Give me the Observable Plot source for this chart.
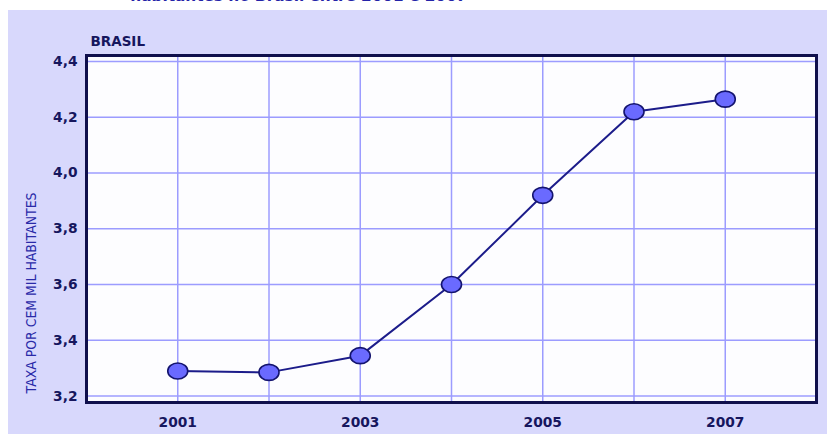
<!DOCTYPE html>
<html>
<head>
<meta charset="utf-8">
<script src="https://cdn.jsdelivr.net/npm/d3@7"></script>
<script src="https://cdn.jsdelivr.net/npm/@observablehq/plot@0.6"></script>
<style>
  html, body { margin: 0; padding: 0; background: #ffffff; width: 827px; height: 434px; overflow: hidden; }
  #wrap { position: relative; width: 827px; height: 434px; background: #ffffff; }
  #title { position: absolute; z-index: 2; left: 131px; top: -13px; font: italic bold 15.3px "DejaVu Sans", sans-serif; color: #2424a8; white-space: nowrap; }
  #panel { position: absolute; z-index: 1; left: 8px; top: 10px; width: 819px; height: 424px; background: #d8d8fc; }
</style>
</head>
<body>
<div id="wrap">
  <div id="panel"></div>
  <div id="title">habitantes no Brasil entre 2001 e 2007</div>
</div>
<script>
// Taxa por cem mil habitantes, Brasil, 2001–2007
const years = [2001, 2002, 2003, 2004, 2005, 2006, 2007];
const rates = [3.29, 3.285, 3.345, 3.6, 3.92, 4.22, 4.265];
const yTicks = [3.2, 3.4, 3.6, 3.8, 4.0, 4.2, 4.4];
const xLabels = [2001, 2003, 2005, 2007];
const regionLabel = "BRASIL";
const yLabel = "TAXA POR CEM MIL HABITANTES";

const data = years.map((year, i) => ({year, rate: rates[i]}));

// Elliptical marker (wider than tall)
const ellipse = {
  draw(ctx) {
    const a = 10, b = 8, k = 0.5523;
    ctx.moveTo(a, 0);
    ctx.bezierCurveTo(a, b * k, a * k, b, 0, b);
    ctx.bezierCurveTo(-a * k, b, -a, b * k, -a, 0);
    ctx.bezierCurveTo(-a, -b * k, -a * k, -b, 0, -b);
    ctx.bezierCurveTo(a * k, -b, a, -b * k, a, 0);
    ctx.closePath();
  }
};

const fmt = d => d.toFixed(1).replace(".", ",");

const chart = Plot.plot({
  width: 819,
  height: 424,
  marginLeft: 78,
  marginTop: 45,
  marginRight: 11,
  marginBottom: 32,
  style: {background: "transparent", fontFamily: "DejaVu Sans, sans-serif", display: "block"},
  x: {domain: [2000, 2008]},
  y: {domain: [3.177, 4.4215]},
  marks: [
    Plot.frame({fill: "#fdfdff"}),
    Plot.gridX(years, {stroke: "#9c9cff", strokeOpacity: 1, strokeWidth: 1.5}),
    Plot.gridY(yTicks, {stroke: "#9c9cff", strokeOpacity: 1, strokeWidth: 1.5}),
    Plot.axisY(yTicks, {tickSize: 0, tickPadding: 9, tickFormat: fmt, label: null,
      fontSize: 13.8, fontWeight: "bold", fill: "#16165e"}),
    Plot.axisX(xLabels, {tickSize: 0, tickPadding: 15, tickFormat: d => String(d), label: null,
      fontSize: 13.8, fontWeight: "bold", fill: "#16165e"}),
    Plot.text([regionLabel], {frameAnchor: "top-left", textAnchor: "start", dx: 4, dy: -19,
      fontSize: 13.5, fontWeight: "bold", fill: "#16165e"}),
    Plot.text([yLabel], {frameAnchor: "bottom-left", textAnchor: "start", rotate: -90,
      dx: -51, dy: -9, fontSize: 14, fill: "#2a2aa8", className: "ylabel"}),
    Plot.line(data, {x: "year", y: "rate", stroke: "#1c1c8a", strokeWidth: 2}),
    Plot.dot(data, {x: "year", y: "rate", symbol: ellipse, r: 8,
      fill: "#6a6aff", stroke: "#14146e", strokeWidth: 1.6}),
    Plot.frame({stroke: "#10104c", strokeWidth: 3})
  ]
});

// The axis title is set in a condensed face: fit it to the axis height
d3.select(chart).selectAll(".ylabel text")
  .attr("textLength", 201)
  .attr("lengthAdjust", "spacingAndGlyphs");

document.getElementById("panel").append(chart);
</script>
</body>
</html>
